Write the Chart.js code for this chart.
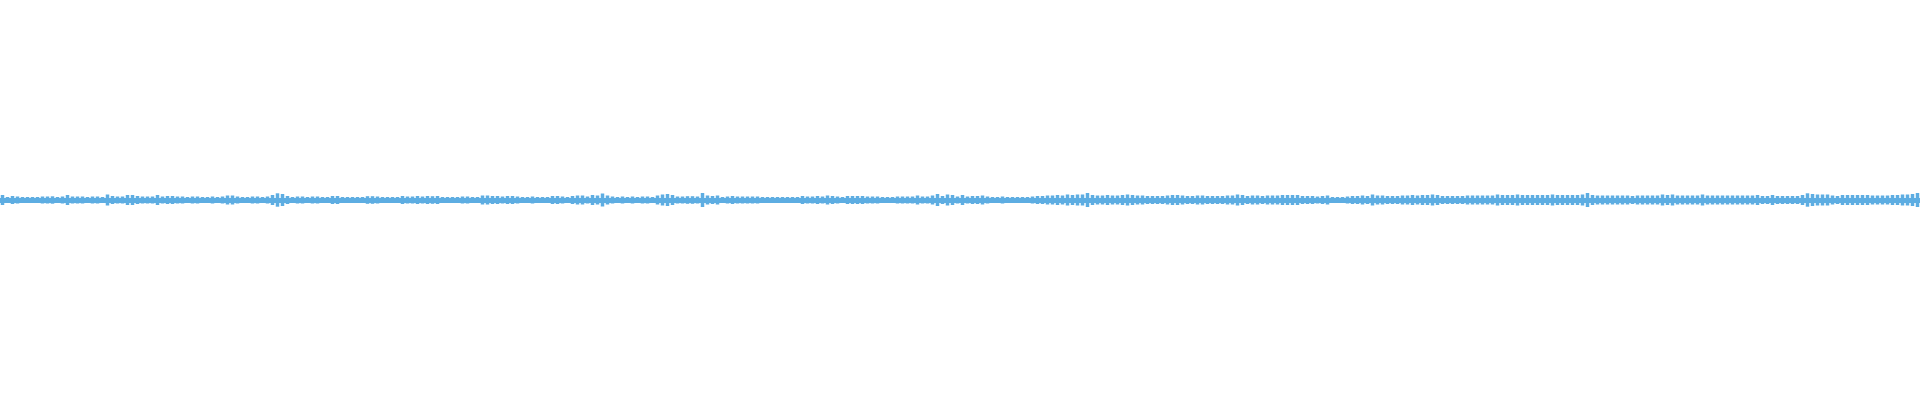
<!DOCTYPE html>
<html>
<head>
<meta charset="utf-8">
<script src="https://cdn.jsdelivr.net/npm/chart.js@4/dist/chart.umd.min.js"></script>
<style>
  body { margin: 0; background: #fff; }
  #wrap { width: 1920px; height: 400px; }
</style>
</head>
<body>
<div id="wrap"><canvas id="wave" width="1920" height="400"></canvas></div>
<script>
// Waveform peak amplitude per slice (half height), in px
const ampPart1 = [5,3,4,3.5,3,3,3,3,3.5,3.5,3.7,3,3.5,5,3.5,3.5,3.5,3,3.5,3.5,3,5.5,4,3.5,3.5,5,5,4,3.5,3.5,3.5,5,
  3.5,4,4,3.5,3.5,3,3.5,3.5,3,3,3.5,3,3.5,4.5,4.5,3.5,3,3,3.5,3.5,3,3.5,5,6.7,6,4,3,3.5,3.5,3,3.5,3.5];
const ampPart2 = [3,3,4,4,3,3,3,3,3,3.8,3.8,3.5,3,3,3,3,4,3.5,3.5,4,3.5,4,3.8,4,3,3,3,3,3.5,3.5,3,3,
  4.5,4.5,4,4,3.5,4,4,3.5,3,3,3.5,3,3,3,4,4,3.5,3,4,4.5,4.5,3.5,5,4.5,6.5,4.5,3.5,3,3.5,3,3.5,3];
const ampPart3 = [3.5,3.5,3,4.5,5.5,6,5,3.5,3.5,3.8,3.8,3.5,7,4.5,4,4.5,3,3.5,4,3.5,3.5,3.5,3.5,3.5,3,3,3,3,3,3,3,3,
  4,3.5,3.5,4,3.5,4.5,4,3.5,3,4,4,4,4,3.5,3.5,3.5,3,3,3,3.5,3.5,3.5,3.5,4.5,3.5,3.5,4.5,6,4,5.5,5,3.5];
const ampPart4 = [5,3.5,4,4,4.5,3.5,3,3,3.5,3,3,3,3,3,3.5,4,4,4.5,4.5,5,4.5,5.5,5,5.5,5.5,7,5,4.5,4.5,5,4.5,4.5,
  5,5.5,5,4.5,4.5,4,4,4,4,4.5,5,5,4.5,4,4,4.5,4.5,4,4,4,4,4.5,4.5,5.5,5,4,4.5,4.5,4,4.5,4.5,4.5];
const ampPart5 = [5,5,5,5,4,4,4,3.5,4,4.5,3,3,3,3.5,4,4,4.5,4,5.5,4.5,4.5,4,4,4,4.5,4.5,5,4.5,5,5,5.5,5,
  4,4,4,4,4,4.5,4.5,4.5,4.5,4.5,4.5,5.5,5,5,5,5.5,5,5,5,5,5,5,5.5,5,5,5,5,5,5.5,7,5,4.5];
const ampPart6 = [4.5,4.5,4.5,4.5,4.5,4.5,4,4.5,4.5,4.5,4.5,4.5,5.5,5,5.5,4.5,4.5,4.5,4.5,4.5,5.5,4.5,4.5,4.5,4.5,4.5,4.5,4.5,4.5,4.5,4.5,5,
  4,4,5,4,4,4,4,4,5,6.7,6,5.5,5.5,5.5,4.5,4,5,5,5,5,5,5,4.5,4.5,4.5,4.5,5,5,5.5,5.5,6,7];

const amplitudes = [].concat(ampPart1, ampPart2, ampPart3, ampPart4, ampPart5, ampPart6);
const sliceLabels = amplitudes.map((_, i) => i);

const waveColor = "#5DADE2";

const ctx = document.getElementById("wave").getContext("2d");
const waveChart = new Chart(ctx, {
  type: "bar",
  data: {
    labels: sliceLabels,
    datasets: [
      {
        label: "Amplitude",
        data: amplitudes.map((a) => [-a, a]), // symmetric around zero
        backgroundColor: waveColor,
        borderWidth: 0,
        barPercentage: 0.7,
        categoryPercentage: 1,
      },
    ],
  },
  options: {
    responsive: false,
    animation: false,
    layout: { padding: 0 },
    plugins: {
      legend: { display: false },
      tooltip: { enabled: false },
    },
    scales: {
      x: { display: false },
      y: {
        min: -200,
        max: 200,
        ticks: { display: false, stepSize: 200 },
        border: { display: false },
        grid: {
          drawTicks: false,
          // the quiet floor of the waveform, drawn as the zero line
          color: (c) => (c.tick && c.tick.value === 0 ? waveColor : "rgba(0,0,0,0)"),
          lineWidth: (c) => (c.tick && c.tick.value === 0 ? 5 : 0),
        },
      },
    },
  },
});
</script>
</body>
</html>
